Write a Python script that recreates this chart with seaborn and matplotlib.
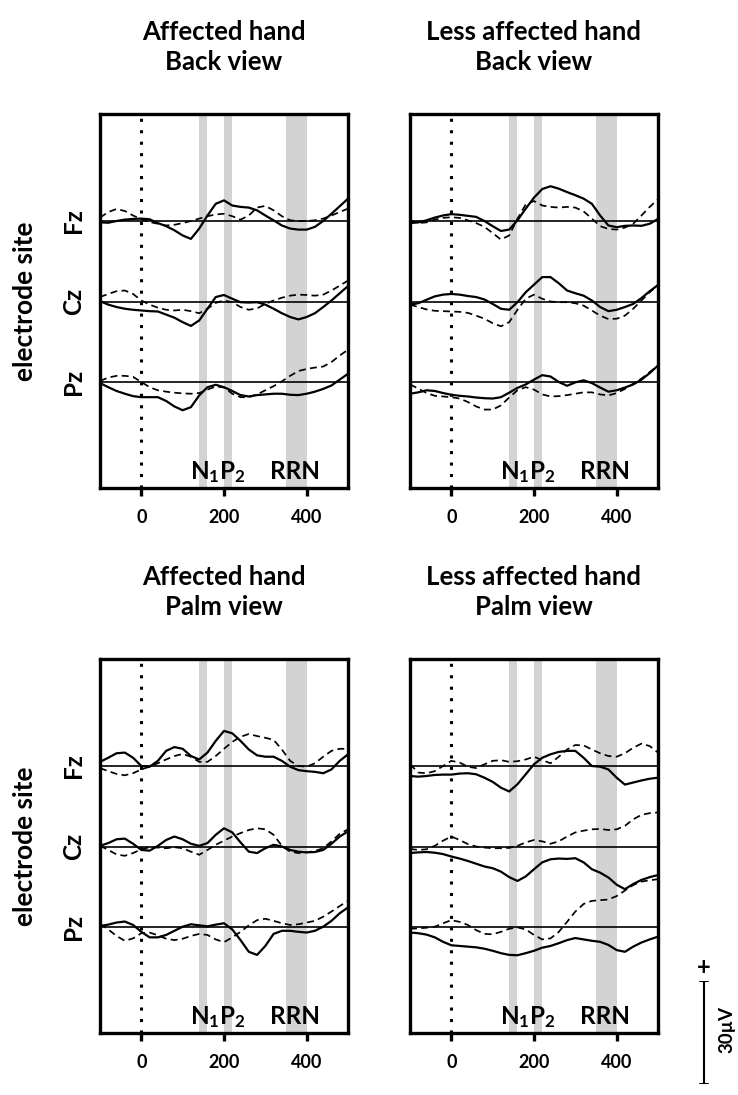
import numpy as np
import pandas as pd
import matplotlib
matplotlib.use("Agg")
import matplotlib.pyplot as plt
import seaborn as sns

# --- data (µV) ---
TIME_MS = list(range(-100, 501, 20))
ELECTRODES = ["Fz", "Cz", "Pz"]
BANDS = [(140, 160), (200, 220), (350, 400)]

# Affected hand, back view
AFF_BACK_FZ_SOLID = [-0.4, -0.5, 0.0, 0.4, 0.6, 0.7, 0.5, -0.6, -1.5, -2.7, -4.2, -5.2, -2.2, 1.6, 5.0, 6.0,
                     4.5, 4.1, 3.9, 3.1, 1.6, 0.2, -1.3, -2.2, -2.5, -2.5, -1.7, 0.0, 2.1, 4.3, 6.5]
AFF_BACK_FZ_DASH = [1.0, 2.6, 3.5, 2.9, 1.6, 0.5, -0.3, -0.8, -1.3, -1.1, -0.6, 0.0, 0.7, 1.4, 1.9, 2.1,
                    1.4, 0.4, 1.6, 3.9, 4.4, 3.1, 1.4, 0.2, 0.0, 0.0, 0.2, 0.7, 1.6, 2.6, 3.6]
AFF_BACK_CZ_SOLID = [0.1, -0.9, -1.6, -2.1, -2.4, -2.6, -2.8, -2.9, -3.8, -4.7, -6.0, -7.1, -5.5, -2.1, 1.3, 1.9,
                     0.8, -0.2, -0.3, -0.2, -0.9, -2.1, -3.4, -4.5, -5.2, -4.5, -3.4, -1.6, 0.3, 2.4, 4.5]
AFF_BACK_CZ_DASH = [1.3, 2.2, 3.0, 3.2, 2.2, 0.3, -0.9, -1.8, -2.4, -2.6, -2.4, -2.8, -3.4, -2.1, -0.4, 0.3,
                    -0.2, -1.6, -2.4, -2.0, -0.7, 0.3, 1.1, 1.7, 2.0, 1.9, 1.7, 2.0, 3.2, 4.6, 6.1]
AFF_BACK_PZ_SOLID = [-0.3, -1.5, -2.6, -3.4, -4.1, -4.4, -4.4, -4.4, -5.5, -7.1, -8.2, -7.3, -3.9, -1.5, -0.8, -1.5,
                     -2.6, -3.8, -4.2, -3.8, -3.6, -3.4, -3.4, -3.7, -3.8, -3.4, -2.8, -2.0, -1.0, 0.7, 2.4]
AFF_BACK_PZ_DASH = [0.3, 1.3, 1.8, 1.8, 1.5, 0.0, -1.5, -2.4, -2.8, -3.1, -3.3, -3.4, -3.2, -2.2, -1.3, -1.6,
                    -3.4, -4.4, -4.4, -3.6, -2.4, -1.2, 0.2, 1.8, 3.2, 3.8, 4.2, 4.5, 5.8, 7.7, 9.4]

# Less affected hand, back view
LESS_BACK_FZ_SOLID = [-0.6, -0.4, 0.2, 1.0, 1.6, 2.0, 1.8, 1.5, 1.2, 0.0, -1.5, -2.9, -2.5, 0.2, 3.6, 6.8,
                      9.3, 10.1, 9.4, 8.4, 7.5, 6.5, 5.0, 1.6, -1.3, -1.8, -1.4, -1.3, -1.4, -0.8, 0.6]
LESS_BACK_FZ_DASH = [0.2, -0.6, -0.4, 0.4, 0.9, 1.1, 0.9, 0.2, -0.6, -1.7, -3.5, -5.4, -4.2, 0.7, 4.8, 5.8,
                     4.5, 4.1, 3.9, 4.1, 3.9, 2.8, 0.7, -1.5, -2.3, -2.5, -1.9, -0.8, 1.6, 4.1, 6.3]
LESS_BACK_CZ_SOLID = [-0.9, -0.5, 0.5, 1.5, 2.0, 2.2, 2.0, 1.6, 1.3, 0.6, -0.7, -2.1, -2.4, -0.2, 2.7, 4.9,
                      7.1, 7.1, 5.3, 3.2, 2.4, 1.7, 0.3, -1.6, -2.8, -2.4, -1.6, -0.7, 1.0, 3.0, 4.8]
LESS_BACK_CZ_DASH = [-0.9, -1.6, -2.3, -2.7, -2.8, -2.9, -3.0, -3.3, -4.1, -5.0, -6.3, -7.2, -6.0, -2.4, 0.8, 2.0,
                     0.8, 0.0, -0.2, -0.2, -0.5, -1.2, -2.6, -4.1, -5.1, -5.0, -4.1, -2.1, 0.3, 2.7, 4.8]
LESS_BACK_PZ_SOLID = [-3.4, -3.0, -2.4, -2.6, -3.2, -3.7, -4.0, -4.2, -4.5, -4.7, -4.8, -4.4, -3.1, -1.7, -0.7, 0.7,
                      2.0, 1.6, 0.0, -1.1, -0.1, 0.5, -0.3, -1.6, -2.8, -2.4, -1.6, -0.7, 0.7, 2.6, 4.8]
LESS_BACK_PZ_DASH = [-0.7, -1.9, -3.2, -4.0, -4.2, -4.4, -4.8, -5.8, -7.1, -8.0, -8.0, -6.8, -4.5, -2.4, -1.5, -2.2,
                     -3.6, -4.2, -4.1, -3.8, -3.4, -3.0, -3.0, -3.6, -3.9, -3.2, -2.0, -0.5, 1.0, 2.9, 4.8]

# Affected hand, palm view
AFF_PALM_FZ_SOLID = [1.2, 2.4, 3.7, 3.9, 2.4, 0.0, -0.2, 1.5, 4.4, 5.5, 5.0, 2.9, 1.9, 3.9, 7.3, 10.2,
                     9.5, 7.3, 4.8, 3.1, 2.7, 2.7, 1.5, -0.2, -1.2, -1.5, -1.7, -2.1, -1.0, 1.5, 3.4]
AFF_PALM_FZ_DASH = [-0.6, -1.5, -2.3, -2.7, -2.1, -1.0, -0.2, 0.8, 1.9, 2.9, 3.5, 2.7, 1.2, 1.2, 2.9, 5.0,
                    7.0, 8.5, 9.3, 8.7, 8.2, 7.6, 4.8, 1.5, 0.0, -0.2, 0.8, 2.7, 4.4, 5.0, 5.0]
AFF_PALM_CZ_SOLID = [0.2, 1.0, 2.1, 2.3, 0.8, -1.0, -1.2, 0.2, 1.9, 2.9, 2.1, 0.8, 0.2, 1.0, 3.4, 5.3,
                     4.1, 1.2, -1.5, -1.9, -0.5, 0.5, 0.0, -1.0, -1.5, -1.7, -1.6, -1.0, 0.8, 2.9, 4.4]
AFF_PALM_CZ_DASH = [0.2, -1.0, -2.3, -2.7, -1.9, -0.8, -0.2, -0.3, -0.5, -0.2, -0.5, -1.5, -2.4, -1.0, 0.5, 1.7,
                    2.9, 3.9, 4.8, 5.3, 5.0, 3.4, 0.2, -1.5, -1.9, -1.7, -1.3, -0.5, 1.5, 3.7, 5.0]
AFF_PALM_PZ_SOLID = [0.3, 0.7, 1.3, 1.6, 0.6, -1.4, -3.0, -3.0, -2.3, -1.1, 0.1, 0.8, 0.5, 0.2, 0.7, 1.1,
                     -0.7, -3.8, -7.2, -8.1, -5.5, -2.0, -1.1, -1.1, -1.4, -1.6, -1.1, 0.1, 1.8, 4.0, 5.7]
AFF_PALM_PZ_DASH = [0.9, -0.7, -2.6, -4.0, -3.3, -1.8, -1.6, -2.4, -3.4, -3.8, -3.4, -2.6, -2.0, -2.3, -3.6, -4.4,
                    -3.0, -1.4, 0.5, 2.0, 2.4, 1.8, 1.1, 0.6, 0.8, 1.3, 1.8, 3.0, 4.5, 6.1, 7.6]

# Less affected hand, palm view
LESS_PALM_FZ_SOLID = [-2.9, -3.1, -2.9, -2.6, -2.5, -2.5, -2.2, -2.1, -2.4, -3.4, -4.6, -6.3, -7.4, -5.3, -2.4, 0.5,
                      2.4, 3.4, 4.1, 4.4, 4.4, 2.4, 0.0, -0.2, -1.0, -3.4, -5.4, -4.8, -4.2, -3.7, -3.4]
LESS_PALM_FZ_DASH = [0.5, -1.9, -2.1, -1.5, 0.0, 1.5, 1.0, -0.2, -0.6, 0.5, 1.5, 1.7, 1.2, 1.4, 1.9, 2.7,
                     1.7, 0.8, 2.7, 4.8, 6.1, 6.0, 4.8, 3.7, 2.9, 2.7, 3.7, 5.3, 6.5, 5.8, 3.9]
LESS_PALM_CZ_SOLID = [-1.9, -1.7, -1.6, -1.8, -2.2, -2.9, -3.5, -4.2, -5.0, -5.8, -6.3, -7.3, -8.9, -10.0, -8.7, -6.6,
                      -4.6, -3.7, -3.5, -3.6, -3.4, -4.6, -6.6, -7.6, -9.0, -11.1, -12.4, -10.9, -9.7, -8.9, -8.3]
LESS_PALM_CZ_DASH = [-0.7, -1.0, -0.8, 0.2, 1.7, 2.9, 1.9, 0.7, 0.0, -0.3, -0.5, -0.5, -0.4, 0.2, 1.2, 1.9,
                     1.5, 0.8, 1.5, 2.9, 4.1, 4.6, 5.0, 5.1, 4.8, 5.0, 6.0, 7.9, 9.2, 9.7, 9.9]
LESS_PALM_PZ_SOLID = [-1.6, -1.8, -2.2, -3.0, -4.3, -5.3, -5.5, -5.7, -5.9, -6.3, -6.9, -7.6, -8.1, -8.2, -7.6, -6.9,
                      -6.0, -5.5, -4.7, -3.8, -3.2, -3.6, -4.0, -4.3, -5.2, -6.7, -7.2, -5.7, -4.5, -3.6, -2.8]
LESS_PALM_PZ_DASH = [-0.5, -0.4, -0.2, 0.1, 1.1, 2.0, 1.5, 0.6, -0.9, -2.0, -2.1, -1.4, -0.5, -0.1, -0.7, -2.3,
                     -3.6, -3.3, -1.4, 1.5, 4.5, 6.7, 7.6, 7.8, 8.0, 9.0, 10.6, 12.2, 13.2, 13.6, 13.9]

PANELS = [
    ("Affected hand\nBack view", [(AFF_BACK_FZ_SOLID, AFF_BACK_FZ_DASH),
                                  (AFF_BACK_CZ_SOLID, AFF_BACK_CZ_DASH),
                                  (AFF_BACK_PZ_SOLID, AFF_BACK_PZ_DASH)]),
    ("Less affected hand\nBack view", [(LESS_BACK_FZ_SOLID, LESS_BACK_FZ_DASH),
                                       (LESS_BACK_CZ_SOLID, LESS_BACK_CZ_DASH),
                                       (LESS_BACK_PZ_SOLID, LESS_BACK_PZ_DASH)]),
    ("Affected hand\nPalm view", [(AFF_PALM_FZ_SOLID, AFF_PALM_FZ_DASH),
                                  (AFF_PALM_CZ_SOLID, AFF_PALM_CZ_DASH),
                                  (AFF_PALM_PZ_SOLID, AFF_PALM_PZ_DASH)]),
    ("Less affected hand\nPalm view", [(LESS_PALM_FZ_SOLID, LESS_PALM_FZ_DASH),
                                       (LESS_PALM_CZ_SOLID, LESS_PALM_CZ_DASH),
                                       (LESS_PALM_PZ_SOLID, LESS_PALM_PZ_DASH)]),
]

# --- layout / style ---
OFFSETS = [0.0, -23.4, -46.8]     # vertical stacking of electrodes (µV)
YLIM = (-77.6, 31.1)              # 1 µV ~ 3.44 px
W, H = 738, 1095

sns.set_style("white")
plt.rcParams["font.family"] = ["Lato", "DejaVu Sans"]
plt.rcParams["font.weight"] = "bold"
plt.rcParams["text.color"] = "black"
plt.rcParams["axes.labelcolor"] = "black"
plt.rcParams["xtick.color"] = "black"
plt.rcParams["ytick.color"] = "black"
plt.rcParams["mathtext.fontset"] = "custom"
plt.rcParams["mathtext.rm"] = "Lato:bold"
plt.rcParams["mathtext.it"] = "Lato:bold"
plt.rcParams["mathtext.bf"] = "Lato:bold"

fig = plt.figure(figsize=(W / 100, H / 100), dpi=100)


def px_axes(x0, y0, x1, y1):
    return fig.add_axes([x0 / W, 1 - y1 / H, (x1 - x0) / W, (y1 - y0) / H])


boxes = [(100, 114, 348, 488), (410, 114, 658, 488),
         (100, 659, 348, 1033), (410, 659, 658, 1033)]

for i, ((title, traces), box) in enumerate(zip(PANELS, boxes)):
    ax = px_axes(*box)
    for lo, hi in BANDS:
        ax.axvspan(lo, hi, color="#d3d3d3", lw=0, zorder=0)
    ax.axvline(0, color="black", lw=2.2, ls=(0, (1, 2.75)), zorder=1)
    for off, (solid, dash) in zip(OFFSETS, traces):
        ax.axhline(off, color="black", lw=1.2, zorder=2)
        df = pd.DataFrame({"t": TIME_MS, "solid": np.array(solid) + off, "dash": np.array(dash) + off})
        sns.lineplot(data=df, x="t", y="dash", ax=ax, color="black", lw=1.25,
                     linestyle=(0, (4, 2.5)), estimator=None, sort=False, zorder=3)
        sns.lineplot(data=df, x="t", y="solid", ax=ax, color="black", lw=1.6,
                     estimator=None, sort=False, zorder=4, solid_joinstyle="round")

    ax.set_xlim(-100, 500)
    ax.set_ylim(*YLIM)
    ax.set_xlabel("")
    ax.set_ylabel("")
    ax.set_xticks([0, 200, 400])
    ax.tick_params(axis="x", direction="out", length=6, width=2.4, pad=9,
                   labelsize=13, bottom=True, colors="black")
    for lab in ax.get_xticklabels():
        lab.set_fontweight("bold")
    if i % 2 == 0:
        ax.set_yticks(OFFSETS)
        ax.set_yticklabels(ELECTRODES, rotation=90, va="center", fontsize=17.5, fontweight="bold")
        ax.tick_params(axis="y", length=0, pad=11, colors="black")
    else:
        ax.set_yticks([])
    for sp in ax.spines.values():
        sp.set_linewidth(2.4)
        sp.set_color("black")
        sp.set_visible(True)

    ax.text(185, -75, "N$_1$P$_2$", ha="center", va="baseline", fontsize=17.5, fontweight="bold")
    ax.text(372, -75, "RRN", ha="center", va="baseline", fontsize=17.5, fontweight="bold")
    ax.text(0.5, 1.18, title, transform=ax.transAxes, ha="center", va="center",
            fontsize=18.5, fontweight="bold", linespacing=1.3)

    if i % 2 == 0:
        fig.text(25 / W, 1 - ((box[1] + box[3]) / 2) / H, "electrode site", rotation=90,
                 ha="center", va="center", fontsize=19, fontweight="bold")

# --- 30 µV scale bar ---
sax = px_axes(696, 981, 712, 1084)
sax.set_xlim(-1, 1)
sax.set_ylim(0, 30)
sax.plot([0, 0], [0, 30], color="black", lw=1.5)
sax.plot([-0.5, 0.5], [0, 0], color="black", lw=1.5)
sax.plot([-0.5, 0.5], [30, 30], color="black", lw=1.5)
sax.text(0, 30.5, "+", ha="center", va="bottom", fontsize=17, fontweight="bold")
sax.text(2.9, 16, "30µV", rotation=90, ha="center", va="center", fontsize=13.5, fontweight="bold")
sax.axis("off")

fig.savefig("out.png", dpi=100)
